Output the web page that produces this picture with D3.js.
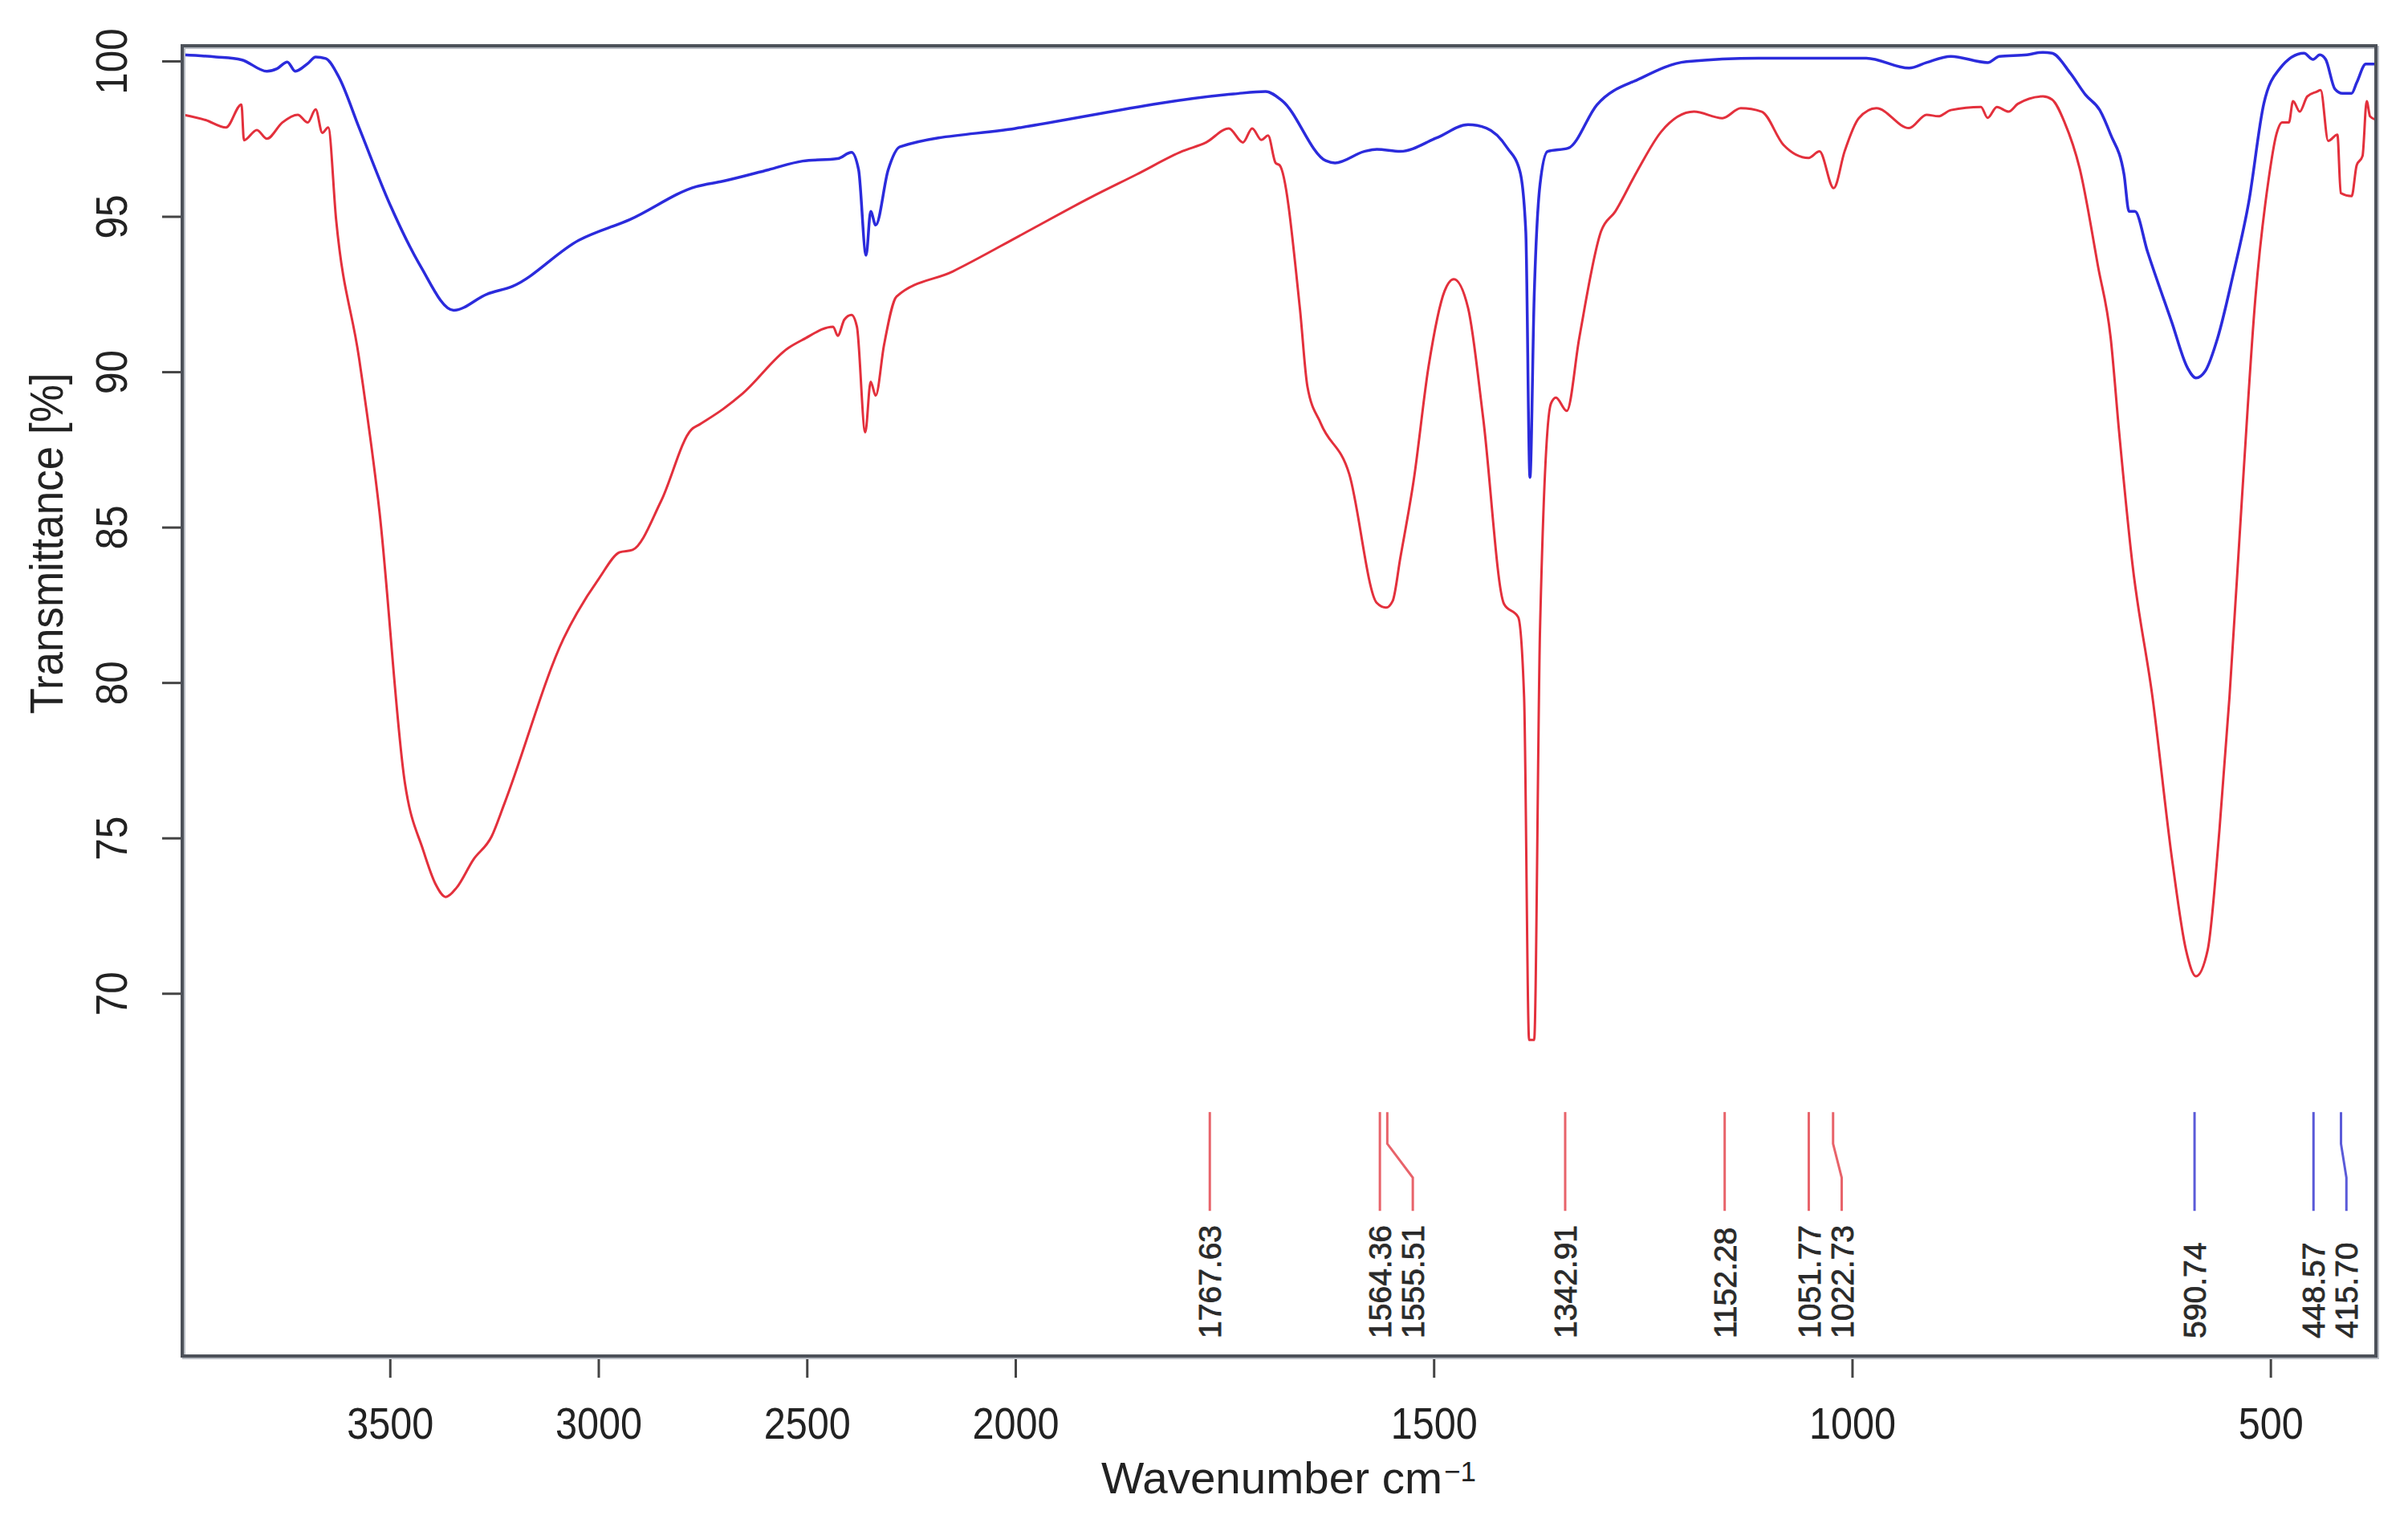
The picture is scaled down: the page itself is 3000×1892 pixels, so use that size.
<!DOCTYPE html>
<html>
<head>
<meta charset="utf-8">
<script src="https://cdn.jsdelivr.net/npm/d3@7"></script>
<style>
  html, body { margin: 0; padding: 0; background: #fff; }
  svg { display: block; }
  text { font-family: "Liberation Sans", Arial, sans-serif; fill: #222; }
</style>
</head>
<body>
<svg id="chart" width="3000" height="1892"></svg>
<script>
// x axis is split at 2000 cm-1 (above it the scale is halved)
var xBreaks = [4000, 2000, 374];
var xTicks = [3500, 3000, 2500, 2000, 1500, 1000, 500];
var yTicks = [70, 75, 80, 85, 90, 95, 100];
var yDomain = [58.33, 100.49];

// [wavenumber, transmittance %]
var blueSpectrum = [
	[3995, 100.2], [3917, 100.13], [3856, 100.04], [3795, 99.67], [3771, 99.75],
	[3746, 99.97], [3727, 99.67], [3697, 99.92], [3678, 100.13], [3654, 100.08],
	[3623, 99.5], [3574, 97.86], [3500, 95.39], [3427, 93.41], [3347, 91.98],
	[3267, 92.5], [3206, 92.75], [3047, 94.23], [2924, 94.9], [2765, 95.96],
	[2702, 96.13], [2592, 96.5], [2510, 96.78], [2426, 96.86], [2393, 97.06],
	[2376, 96.5], [2358, 93.75], [2347, 95.16], [2335, 94.72], [2305, 96.5],
	[2277, 97.24], [2000, 97.83], [1739, 98.94], [1701, 99.02], [1681, 98.72],
	[1629, 96.79], [1618, 96.72], [1583, 97.09], [1568, 97.16], [1540, 97.09],
	[1497, 97.52], [1459, 97.95], [1437, 97.84], [1412, 97.2], [1397, 96.45],
	[1390, 94.52], [1385, 86.6], [1380, 92.38], [1373, 96.02], [1364, 97.09],
	[1339, 97.2], [1305, 98.59], [1253, 99.44], [1198, 99.98], [1112, 100.09],
	[983, 100.09], [932, 99.77], [911, 99.95], [882, 100.15], [838, 99.95],
	[824, 100.15], [791, 100.2], [772, 100.28], [761, 100.25], [739, 99.6],
	[721, 98.91], [704, 98.42], [691, 97.63], [675, 96.35], [669, 95.16],
	[662, 95.16], [647, 93.87], [618, 91.6], [599, 90.12], [589, 89.8],
	[578, 90.02], [563, 91.1], [545, 93.08], [526, 95.45], [508, 98.62],
	[489, 99.75], [460, 100.25], [449, 100.05], [441, 100.2], [434, 100.05],
	[423, 99.1], [414, 98.96], [403, 98.96], [397, 99.3], [386, 99.9], [375, 99.9]
];

var redSpectrum = [
	[3995, 98.27], [3942, 98.1], [3893, 97.86], [3856, 98.6], [3850, 97.45],
	[3819, 97.78], [3795, 97.5], [3758, 98.02], [3721, 98.27], [3697, 98.02],
	[3678, 98.44], [3662, 97.69], [3648, 97.86], [3629, 94.9], [3574, 90.44],
	[3525, 85.5], [3464, 76.77], [3420, 74.6], [3390, 73.5], [3366, 73.1],
	[3340, 73.4], [3300, 74.3], [3256, 75.05], [3225, 76.12], [3084, 81.4],
	[2998, 83.36], [2949, 84.19], [2918, 84.27], [2850, 85.83], [2777, 88.14],
	[2758, 88.3], [2702, 88.79], [2654, 89.3], [2544, 90.77], [2510, 91.03],
	[2437, 91.45], [2426, 91.16], [2410, 91.68], [2393, 91.83], [2380, 91.45],
	[2360, 88.05], [2347, 89.68], [2335, 89.23], [2315, 90.86], [2285, 92.42],
	[2150, 93.23], [1992, 94.42], [1910, 95.61], [1855, 96.35], [1800, 97.1],
	[1772, 97.38], [1745, 97.83], [1728, 97.38], [1717, 97.83], [1706, 97.46],
	[1698, 97.6], [1689, 96.72], [1684, 96.64], [1660, 92.05], [1651, 89.53],
	[1635, 88.34], [1601, 86.71], [1568, 82.56], [1557, 82.41], [1549, 82.63],
	[1540, 84.0], [1524, 86.5], [1506, 90.2], [1487, 92.6], [1476, 92.98],
	[1459, 92.06], [1441, 88.53], [1416, 82.53], [1399, 82.1], [1392, 79.53],
	[1386, 68.5], [1380, 68.5], [1373, 81.68], [1360, 88.97], [1354, 89.17],
	[1341, 88.74], [1326, 91.1], [1300, 94.52], [1283, 95.16], [1257, 96.45],
	[1228, 97.73], [1189, 98.37], [1155, 98.16], [1133, 98.48], [1108, 98.37],
	[1082, 97.3], [1052, 96.88], [1039, 97.09], [1022, 95.91], [1009, 97.09],
	[992, 98.16], [971, 98.48], [932, 97.84], [911, 98.27], [897, 98.22],
	[882, 98.42], [846, 98.52], [838, 98.17], [827, 98.52], [813, 98.37],
	[802, 98.62], [772, 98.86], [761, 98.76], [746, 98.02], [728, 96.54],
	[706, 93.38], [691, 91.1], [681, 88.1], [665, 83.82], [641, 79.53],
	[617, 74.19], [601, 71.4], [589, 70.55], [575, 71.4], [561, 75.25],
	[549, 79.53], [534, 85.96], [518, 92.38], [502, 96.23], [493, 97.63],
	[486, 98.02], [478, 98.02], [473, 98.71], [465, 98.37], [456, 98.86],
	[445, 99.01], [440, 99.06], [431, 97.43], [420, 97.63], [416, 95.75],
	[403, 95.65], [397, 96.64], [390, 96.94], [385, 98.71], [381, 98.22], [375, 98.12]
];

var redPeaks = [1767.63, 1564.36, 1555.51, 1342.91, 1152.28, 1051.77, 1022.73];
var bluePeaks = [590.74, 448.57, 415.70];

var COLOR_BLUE = "#2b2bdc";
var COLOR_RED = "#e3303c";

var svg = d3.select("#chart");

var x = d3.scaleLinear().domain(xBreaks).range([226, 1265, 2960]);
var y = d3.scaleLinear().domain(yDomain).range([1689, 57]);

var plotLeft = 227, plotRight = 2960, plotTop = 57, plotBottom = 1689;

svg.append("clipPath").attr("id", "plotclip")
	.append("rect")
	.attr("x", plotLeft).attr("y", plotTop)
	.attr("width", plotRight - plotLeft).attr("height", plotBottom - plotTop);

// spectra
var line = d3.line()
	.x(function (d) { return x(d[0]); })
	.y(function (d) { return y(d[1]); })
	.curve(d3.curveMonotoneX);

var plot = svg.append("g").attr("clip-path", "url(#plotclip)");

plot.append("path")
	.datum(redSpectrum)
	.attr("d", line)
	.attr("fill", "none")
	.attr("stroke", COLOR_RED)
	.attr("stroke-width", 3)
	.attr("stroke-linejoin", "round");

plot.append("path")
	.datum(blueSpectrum)
	.attr("d", line)
	.attr("fill", "none")
	.attr("stroke", COLOR_BLUE)
	.attr("stroke-width", 3.5)
	.attr("stroke-linejoin", "round");

// peak annotations, labels pushed right when they collide
var LINE_TOP = 66.18, LINE_KINK1 = 65.16, LINE_KINK2 = 64.07, LINE_BOTTOM = 63.0, LABEL_START = 58.9;
var LABEL_GAP = 41;

var peaks = redPeaks.map(function (p) { return { wn: p, color: "#e8636a" }; })
	.concat(bluePeaks.map(function (p) { return { wn: p, color: "#5a5ad8" }; }));
peaks.sort(function (a, b) { return b.wn - a.wn; });

var prevLabel = -Infinity;
peaks.forEach(function (p) {
	p.x = x(p.wn);
	p.lx = Math.max(p.x, prevLabel + LABEL_GAP);
	prevLabel = p.lx;
});

var ann = svg.append("g");

ann.selectAll(".peakline")
	.data(peaks)
	.enter().append("path")
	.attr("class", "peakline")
	.attr("d", function (d) {
		return "M" + d.x + "," + y(LINE_TOP) +
			"L" + d.x + "," + y(LINE_KINK1) +
			"L" + d.lx + "," + y(LINE_KINK2) +
			"L" + d.lx + "," + y(LINE_BOTTOM);
	})
	.attr("fill", "none")
	.attr("stroke", function (d) { return d.color; })
	.attr("stroke-width", 3);

ann.selectAll(".peaklabel")
	.data(peaks)
	.enter().append("text")
	.attr("class", "peaklabel")
	.attr("transform", function (d) {
		return "translate(" + d.lx + "," + y(LABEL_START) + ") rotate(-90)";
	})
	.attr("dy", "0.36em")
	.attr("text-anchor", "start")
	.style("font-size", "39px")
	.style("fill", "#2a2a2a")
	.style("stroke", "#2a2a2a")
	.style("stroke-width", 0.8)
	.text(function (d) { return d.wn.toFixed(2); });

// axes
var xAxis = svg.append("g")
	.attr("transform", "translate(0," + plotBottom + ")")
	.call(d3.axisBottom(x).tickValues(xTicks).tickSize(27).tickPadding(37).tickFormat(d3.format("d")));
xAxis.select(".domain").remove();
xAxis.selectAll(".tick line").attr("stroke", "#444").attr("stroke-width", 3);
xAxis.selectAll(".tick text")
	.attr("fill", "#222")
	.attr("textLength", function (d) { return String(d).length * 27; })
	.attr("lengthAdjust", "spacingAndGlyphs")
	.style("font-size", "55px")
	.style("font-family", "'Liberation Sans', Arial, sans-serif");

var yAxis = svg.append("g")
	.attr("transform", "translate(" + plotLeft + ",0)")
	.call(d3.axisLeft(y).tickValues(yTicks).tickSize(25).tickFormat(d3.format("d")));
yAxis.select(".domain").remove();
yAxis.selectAll(".tick line").attr("stroke", "#444").attr("stroke-width", 3);
yAxis.selectAll(".tick text")
	.attr("x", null)
	.attr("dy", null)
	.attr("fill", "#222")
	.attr("text-anchor", "middle")
	.attr("transform", "translate(-69,0) rotate(-90)")
	.attr("textLength", function (d) { return String(d).length * 27.5; })
	.attr("lengthAdjust", "spacingAndGlyphs")
	.style("font-size", "56px")
	.style("font-family", "'Liberation Sans', Arial, sans-serif");

// frame
svg.append("rect")
	.attr("x", plotLeft + 2).attr("y", plotTop + 2)
	.attr("width", plotRight - plotLeft).attr("height", plotBottom - plotTop)
	.attr("fill", "none")
	.attr("stroke", "#b9bdc4")
	.attr("stroke-width", 4);
svg.append("rect")
	.attr("x", plotLeft).attr("y", plotTop)
	.attr("width", plotRight - plotLeft).attr("height", plotBottom - plotTop)
	.attr("fill", "none")
	.attr("stroke", "#4c5159")
	.attr("stroke-width", 4);

// titles
svg.append("text")
	.attr("x", 1372)
	.attr("y", 1860)
	.attr("textLength", 425)
	.attr("lengthAdjust", "spacingAndGlyphs")
	.style("font-size", "55px")
	.text("Wavenumber cm");
svg.append("text")
	.attr("x", 1799)
	.attr("y", 1845)
	.style("font-size", "35px")
	.text("\u22121");

svg.append("text")
	.attr("transform", "translate(78,677) rotate(-90)")
	.attr("text-anchor", "middle")
	.attr("textLength", 425)
	.attr("lengthAdjust", "spacingAndGlyphs")
	.style("font-size", "57px")
	.text("Transmittance [%]");
</script>
</body>
</html>
